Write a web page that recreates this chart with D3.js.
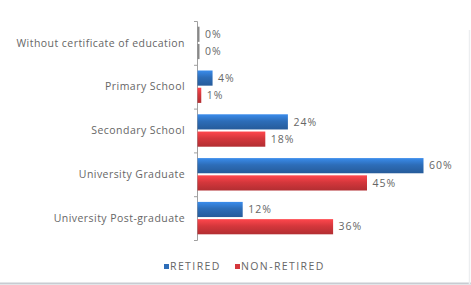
<!DOCTYPE html>
<html><head><meta charset="utf-8">
<script src="https://cdn.jsdelivr.net/npm/d3@7"></script>
<style>body{margin:0;background:#fff}svg{display:block}</style>
</head><body><svg id="c" width="471" height="285"></svg>
<script>
const categories = ["Without certificate of education","Primary School","Secondary School","University Graduate","University Post-graduate"];
const seriesNames = ["RETIRED","NON-RETIRED"];
const retired = [0,4,24,60,12];
const nonRetired = [0,1,18,45,36];
const colors = ["#2d6db8","#d5373c"];

const svg = d3.select("#c");
const font = "'Open Sans', 'Liberation Sans', Arial, sans-serif";
const fs = 10.5;
const defs = svg.append("defs");
colors.forEach((c,i)=>{
  const g = defs.append("linearGradient").attr("id","g"+i).attr("x1",0).attr("x2",0).attr("y1",0).attr("y2",1);
  g.append("stop").attr("offset","0%").attr("stop-color",d3.color(c).brighter(0.7));
  g.append("stop").attr("offset","45%").attr("stop-color",c);
  g.append("stop").attr("offset","100%").attr("stop-color",d3.color(c).darker(0.5));
});

const mLeft = 197, mTop = 21, mBottom = 240;
const x = d3.scaleLinear().domain([0,60]).range([mLeft, mLeft+226]);
const y = d3.scaleBand().domain(categories).range([mTop,mBottom]).paddingInner(0.26).paddingOuter(0.13);
const sub = d3.scaleBand().domain(seriesNames).range([0,y.bandwidth()]).paddingInner(0.12);

// frame lines
svg.append("line").attr("x1",0).attr("x2",471).attr("y1",283.5).attr("y2",283.5).attr("stroke","#c8ccd2").attr("stroke-width",2);
svg.append("line").attr("x1",469.5).attr("x2",469.5).attr("y1",30).attr("y2",284).attr("stroke","#eceef0").attr("stroke-width",1.5);

// y axis
const axis = d3.axisLeft(d3.scaleLinear().domain([0,categories.length]).range([mTop,mBottom])).ticks(5).tickSize(3).tickFormat("");
const ag = svg.append("g").attr("transform",`translate(${mLeft},0)`).call(axis);
ag.selectAll("path,line").attr("stroke","#a0a0a0");

const data = [retired, nonRetired];
data.forEach((arr,si)=>{
  const g = svg.append("g");
  g.selectAll("rect").data(arr).join("rect")
    .attr("x", x(0)+0.5)
    .attr("y",(d,i)=>y(categories[i])+sub(seriesNames[si]))
    .attr("width",d=>Math.max(2, x(d)-x(0)))
    .attr("height",sub.bandwidth())
    .attr("fill",d=> d===0 ? "#888" : `url(#g${si})`);
  g.selectAll("text").data(arr).join("text")
    .attr("x",d=>Math.max(x(d), x(0)+2)+6)
    .attr("y",(d,i)=>y(categories[i])+sub(seriesNames[si])+sub.bandwidth()/2)
    .attr("dy","0.35em")
    .attr("font-family",font).attr("font-size",fs).attr("letter-spacing",1).attr("fill","#666")
    .text(d=>d+"%");
});

svg.append("g").selectAll("text").data(categories).join("text")
  .attr("x",185).attr("y",d=>y(d)+y.bandwidth()/2).attr("dy","0.35em")
  .attr("text-anchor","end").attr("font-family",font).attr("font-size",fs).attr("letter-spacing",0.45).attr("fill","#666")
  .text(d=>d);

// legend
const lx = [164, 235];
seriesNames.forEach((n,i)=>{
  svg.append("rect").attr("x",lx[i]).attr("y",264).attr("width",5).attr("height",5).attr("fill",colors[i]);
  svg.append("text").attr("x",lx[i]+6).attr("y",266).attr("dy","0.35em")
    .attr("font-family",font).attr("font-size",fs).attr("letter-spacing",1.4).attr("fill","#666").text(n);
});
</script></body></html>
